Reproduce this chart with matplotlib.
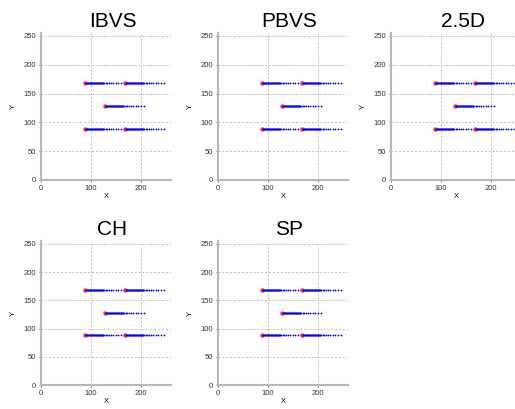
import matplotlib
matplotlib.use("Agg")
import matplotlib.pyplot as plt
import numpy as np

titles = ["IBVS", "PBVS", "2.5D", "CH", "SP"]
start_x = [88, 168, 128, 88, 168]
start_y = [168, 168, 128, 88, 88]
# x-offsets of trajectory samples from the start point
offsets = [0, 1, 2, 3, 4, 5, 6, 7, 8, 9, 10, 11, 12, 13, 14, 15, 16, 17,
           18, 19, 20, 21, 22, 23, 24, 25, 26, 27, 28, 29, 30, 31, 32, 33,
           34, 35, 36, 38, 41, 44, 48, 52, 56, 61, 66, 71, 77]
xticks = [0, 100, 200]
yticks = [0, 50, 100, 150, 200, 250]

plt.rcParams['font.family'] = ['Liberation Sans', 'DejaVu Sans']
fig = plt.figure(figsize=(5.15, 4.09), dpi=100)

W, H = 515, 409
lefts = [41, 218, 391, 41, 218]
bottoms = [180, 180, 180, 385, 385]
heights = [147, 147, 147, 144, 144]
width = 130

for i, t in enumerate(titles):
    ax = fig.add_axes([lefts[i] / W, (H - bottoms[i]) / H, width / W, heights[i] / H])
    for sx, sy in zip(start_x, start_y):
        xs = [sx + o for o in offsets]
        ys = [sy for _ in offsets]
        ax.plot([sx], [sy], linestyle='none', marker='o', color='#ff3030',
                markersize=3.2, markeredgewidth=0)
        ax.plot(xs[1:], ys[1:], linestyle='none', marker='.', color='blue',
                markersize=2.6, markeredgewidth=0)
    ax.set_xlim(0, 260)
    ax.set_ylim(0, 255)
    ax.set_xticks(xticks)
    ax.set_yticks(yticks)
    ax.tick_params(labelsize=5.5, length=1.5, width=0.5, colors='#333333', pad=2)
    ax.grid(True, linestyle=(0, (2, 2)), color='#bdbdbd', linewidth=0.7)
    for s in ['top', 'right']:
        ax.spines[s].set_visible(False)
    for s in ['left', 'bottom']:
        ax.spines[s].set_color('#b8b8b8')
        ax.spines[s].set_linewidth(1.5)
    ax.set_xlabel('X', fontsize=5.5, labelpad=1)
    ax.set_ylabel('Y', fontsize=5.5, labelpad=5)
    ax.set_title(t, fontsize=15, x=0.55, pad=4)

fig.savefig("out.png", dpi=100)
